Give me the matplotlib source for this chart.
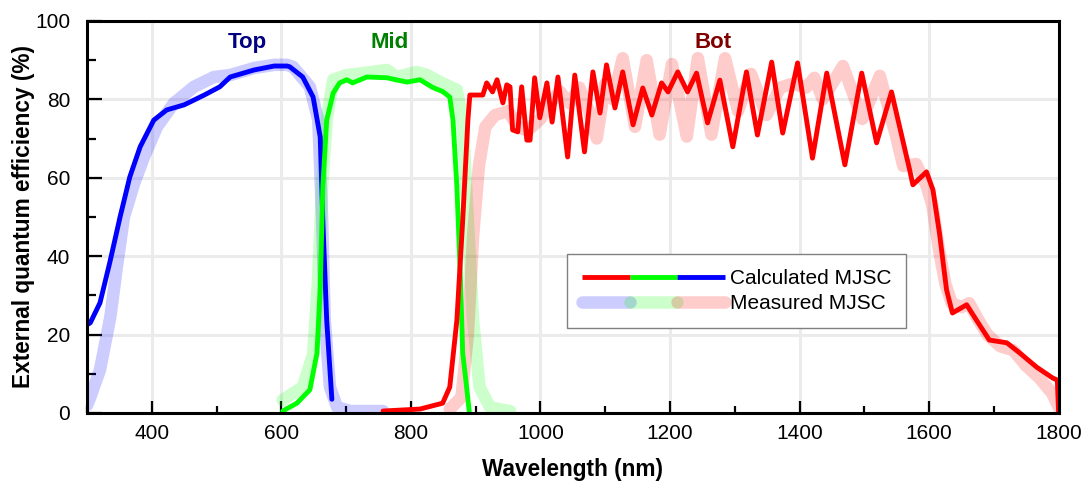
import matplotlib
matplotlib.use("Agg")
import matplotlib.pyplot as plt
from matplotlib.lines import Line2D
from matplotlib.legend_handler import HandlerTuple
from matplotlib.ticker import MultipleLocator

plt.rcParams["font.family"] = ["Liberation Sans", "DejaVu Sans"]

# calculated EQE (top / mid / bottom subcell)
top_calc_nm = [300, 305, 320, 335, 351, 366, 382, 403, 423, 450, 481, 505, 521, 558, 589, 609,
               613, 633, 649, 660, 664, 670, 675, 678]
top_calc = [22.5, 23.0, 28.1, 38.3, 50.0, 60.2, 67.9, 74.7, 77.3, 78.6, 81.1, 83.2, 85.7, 87.5, 88.5, 88.5,
            88.3, 85.7, 80.6, 70.4, 49.2, 23.7, 11.0, 3.5]

mid_calc_nm = [602, 624, 644, 655, 660, 664, 670, 680, 690, 701, 710, 732, 763, 794, 814, 834, 849, 860,
               865, 871, 876, 880, 886, 890]
mid_calc = [0.5, 2.5, 5.9, 15.3, 32.0, 57.7, 74.7, 81.6, 84.2, 85.0, 84.2, 85.7, 85.5, 84.4, 85.0, 83.0, 82.0, 80.6,
            74.7, 57.7, 36.5, 15.3, 6.6, 0.5]

bot_calc_nm = [757, 814, 849, 860, 871, 880, 888, 891, 911, 917, 926, 933, 942, 948, 953, 957, 965, 971, 979, 984,
               991, 999, 1010, 1018, 1027, 1042, 1053, 1068, 1081, 1092, 1102, 1115, 1127, 1143, 1158, 1172,
               1187, 1197, 1212, 1227, 1241, 1258, 1277, 1297, 1318, 1335, 1357, 1374, 1397, 1420, 1442, 1470,
               1496, 1519, 1542, 1570, 1575, 1596, 1606, 1616, 1627, 1636, 1658, 1673, 1693, 1720, 1740, 1766,
               1791, 1798, 1800]
bot_calc = [0.5, 1.0, 2.5, 6.6, 23.7, 49.2, 74.7, 81.1, 81.1, 84.2, 81.9, 85.0, 79.1, 83.7, 83.2, 72.2, 71.7, 83.2,
            69.6, 69.6, 85.5, 75.3, 84.2, 74.2, 85.7, 65.3, 86.2, 66.6, 87.0, 76.5, 88.8, 77.8, 87.0, 73.5, 82.9,
            76.0, 84.2, 81.9, 87.0, 81.9, 86.7, 74.0, 84.9, 67.9, 87.0, 70.9, 89.5, 71.4, 89.3, 65.0, 86.7, 63.3,
            86.7, 68.9, 81.9, 62.0, 58.2, 61.5, 56.9, 45.9, 31.4, 25.5, 27.6, 23.7, 18.6, 17.9, 15.3, 11.7,
            8.9, 8.4, 0.0]

# measured EQE
top_meas_nm = [300, 305, 320, 336, 346, 357, 373, 388, 408, 434, 465, 496, 521, 558, 589, 609,
               618, 644, 657, 663, 667, 675, 686, 706, 757]
top_meas = [2.0, 4.0, 11.0, 24.5, 37.2, 50.0, 58.7, 65.3, 73.0, 79.0, 83.2, 85.7, 86.2, 88.0, 88.8, 88.8,
            88.3, 83.2, 74.7, 49.2, 23.7, 6.6, 1.5, 0.5, 0.5]

mid_meas_nm = [602, 633, 649, 656, 663, 670, 680, 701, 726, 763, 778, 809, 825, 845, 871, 880, 888, 896,
               906, 922, 942, 953]
mid_meas = [3.3, 6.6, 15.0, 32.0, 57.7, 74.7, 85.0, 86.2, 86.7, 87.5, 85.7, 87.0, 86.2, 84.4, 82.4, 74.7,
            49.2, 23.7, 6.6, 1.5, 0.8, 0.5]

bot_meas_nm = [860, 878, 888, 896, 905, 915, 930, 950, 965, 980, 1000, 1015, 1030, 1045, 1060, 1075, 1087,
               1100, 1112, 1127, 1146, 1164, 1184, 1203, 1226, 1243, 1264, 1285, 1305, 1325, 1349, 1370,
               1390, 1410, 1423, 1436, 1467, 1497, 1524, 1550, 1560, 1580, 1596, 1605, 1615, 1625, 1635,
               1650, 1662, 1675, 1690, 1710, 1730, 1750, 1770, 1790, 1800]
bot_meas = [1.0, 4.0, 20.0, 45.0, 63.0, 73.0, 76.0, 77.0, 73.0, 72.0, 75.0, 79.0, 82.0, 79.0, 83.0, 77.0, 70.0,
            84.0, 80.0, 90.5, 73.0, 90.0, 71.0, 89.0, 70.5, 90.5, 71.0, 90.5, 77.0, 86.5, 76.0, 83.0,
            84.0, 83.0, 85.5, 80.0, 88.5, 75.0, 86.0, 70.0, 63.0, 63.5, 58.0, 53.0, 42.0, 33.0, 28.0,
            27.0, 28.0, 24.0, 20.0, 17.0, 16.0, 12.0, 9.0, 5.0, 1.5]

fig = plt.figure(figsize=(10.88, 4.87), dpi=100)
ax = fig.add_axes([0.080, 0.152, 0.893, 0.805])

meas_kw = dict(lw=9, alpha=0.2, solid_capstyle="round", solid_joinstyle="round")
calc_kw = dict(lw=3.5, solid_capstyle="round", solid_joinstyle="round")

ax.plot(top_meas_nm, top_meas, color="#0000ff", **meas_kw)
ax.plot(mid_meas_nm, mid_meas, color="#00ff00", **meas_kw)
ax.plot(bot_meas_nm, bot_meas, color="#ff0000", **meas_kw)
ax.plot(top_calc_nm, top_calc, color="#0000ff", **calc_kw)
ax.plot(mid_calc_nm, mid_calc, color="#00ff00", **calc_kw)
ax.plot(bot_calc_nm, bot_calc, color="#ff0000", **calc_kw)

ax.set_xlim(300, 1800)
ax.set_ylim(0, 100)
ax.xaxis.set_major_locator(MultipleLocator(200))
ax.xaxis.set_minor_locator(MultipleLocator(100))
ax.yaxis.set_major_locator(MultipleLocator(20))
ax.yaxis.set_minor_locator(MultipleLocator(10))
ax.grid(True, which="major", color="#ebebeb", lw=2.2, zorder=0)
ax.set_axisbelow(True)
ax.tick_params(which="both", direction="in", width=1.6, labelsize=15,
               top=False, right=False)
ax.tick_params(axis="x", which="both", pad=8)
ax.tick_params(axis="y", which="both", pad=12)
ax.tick_params(axis="x", which="major", length=9)
ax.tick_params(axis="x", which="minor", length=5)
ax.tick_params(axis="y", which="major", length=11)
ax.tick_params(axis="y", which="minor", length=6.5)
for s in ax.spines.values():
    s.set_linewidth(2.2)

ax.set_xlabel("Wavelength (nm)", fontsize=16.3, fontweight="bold", labelpad=11)
ax.set_ylabel("External quantum efficiency (%)", fontsize=16.3, fontweight="bold", labelpad=0)

ax.text(547, 94.5, "Top", color="#000080", fontsize=16, fontweight="bold", ha="center", va="center")
ax.text(767, 94.5, "Mid", color="#008000", fontsize=16, fontweight="bold", ha="center", va="center")
ax.text(1266, 94.5, "Bot", color="#800000", fontsize=16, fontweight="bold", ha="center", va="center")

calc_h = tuple(Line2D([], [], color=c, lw=3.5, solid_capstyle="butt") for c in ["#ff0000", "#00ff00", "#0000ff"])
meas_h = tuple(Line2D([], [], color=c, lw=9, alpha=0.2, solid_capstyle="round") for c in ["#0000ff", "#00ff00", "#ff0000"])
leg = ax.legend([calc_h, meas_h], ["Calculated MJSC", "Measured MJSC"],
                handler_map={tuple: HandlerTuple(ndivide=None, pad=0)},
                loc="lower left", bbox_to_anchor=(0.494, 0.217), borderaxespad=0,
                fontsize=15, handlelength=6.9, handletextpad=0.2, labelspacing=0.3,
                fancybox=False, edgecolor="#808080", framealpha=1, borderpad=0.7)
leg.get_frame().set_linewidth(1.0)

fig.savefig("out.png", dpi=100)
